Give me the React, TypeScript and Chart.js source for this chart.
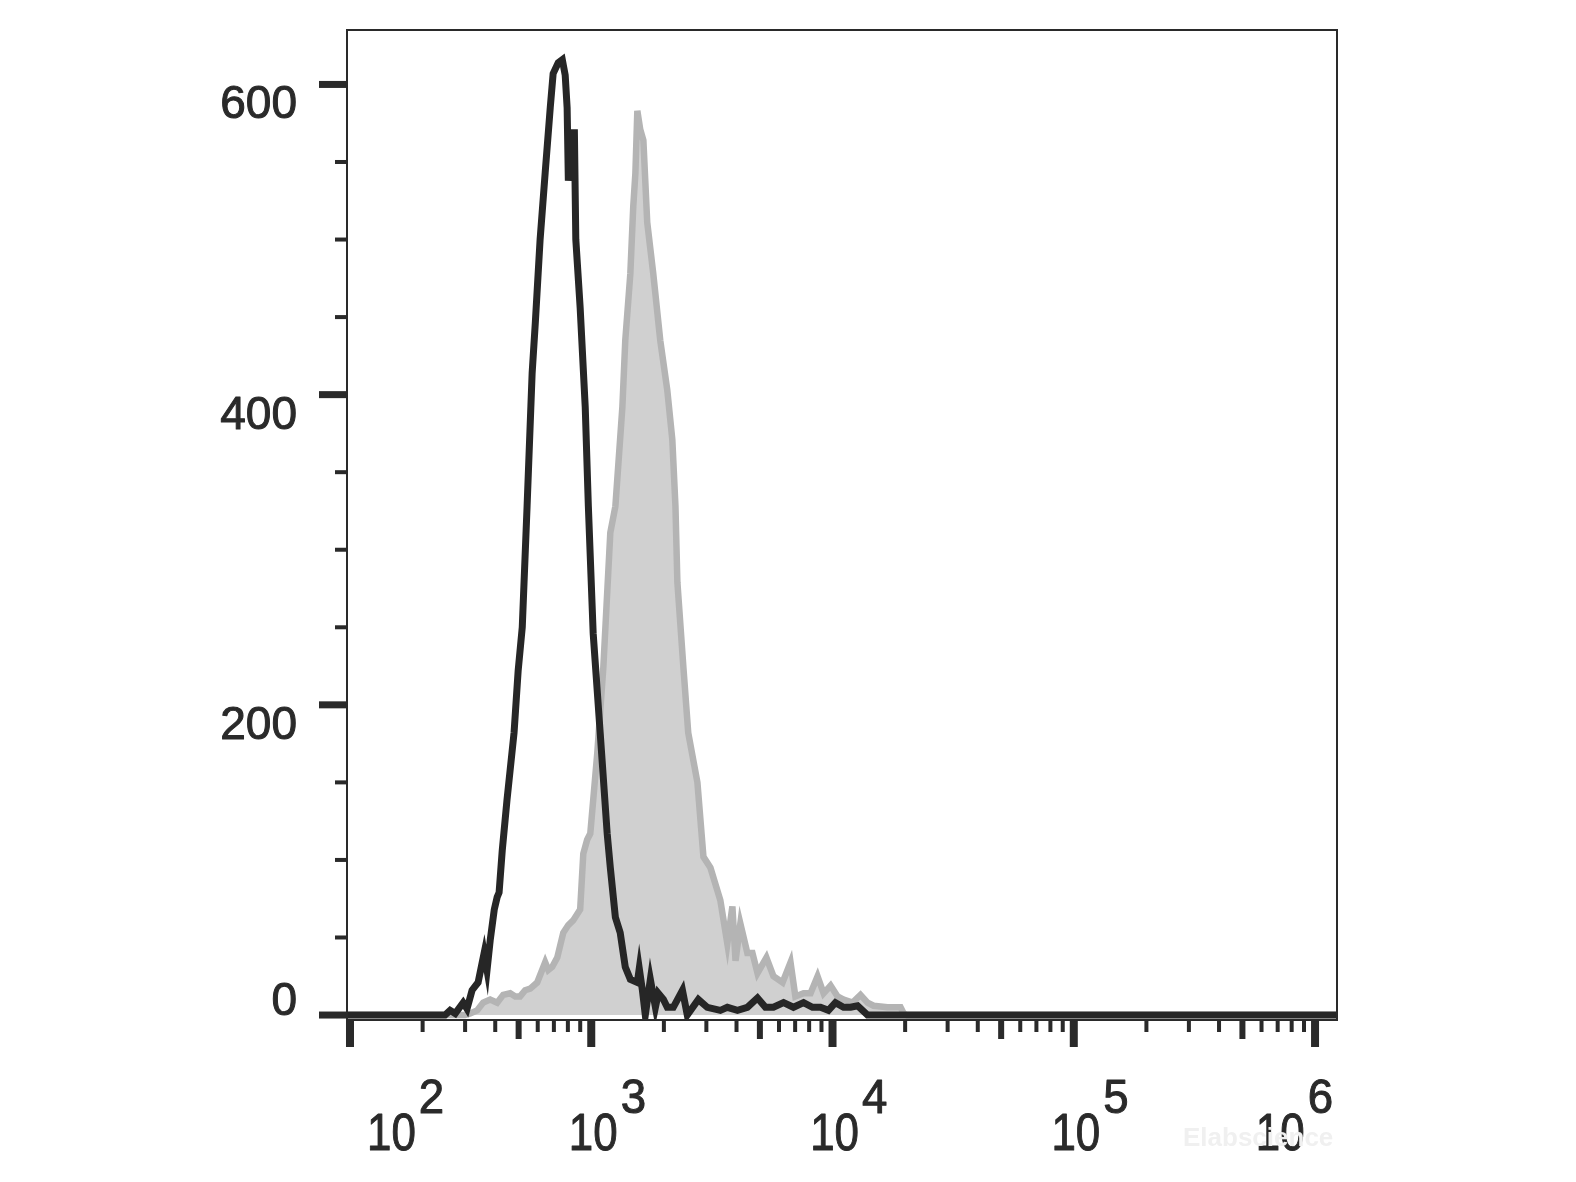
import React, { useEffect, useRef } from "react";
import { Chart, registerables } from "chart.js";

Chart.register(...registerables);

// ---- Data (x given as log10 of fluorescence intensity, y = event count) ----
const blackLogIntensity = [
  1.95, 2.394, 2.415, 2.436, 2.469, 2.485, 2.506, 2.531, 2.556, 2.568, 2.581, 2.598, 2.61, 2.618,
  2.631, 2.651, 2.68, 2.697, 2.714, 2.734, 2.755, 2.768, 2.788, 2.809, 2.83, 2.842, 2.863, 2.88,
  2.892, 2.9, 2.905, 2.93, 2.936, 2.954, 2.975, 2.988, 3.008, 3.037, 3.066, 3.079, 3.1, 3.12,
  3.141, 3.162, 3.191, 3.199, 3.212, 3.224, 3.245, 3.266, 3.278, 3.299, 3.315, 3.34, 3.378, 3.398,
  3.444, 3.481, 3.535, 3.564, 3.606, 3.647, 3.689, 3.722, 3.755, 3.797, 3.838, 3.88, 3.917, 3.95,
  3.983, 4.012, 4.046, 4.075, 4.104, 4.145, 6.15,
];
const blackCounts = [
  0, 0, 3, 1, 8, 4, 16, 21, 40, 29, 48, 68, 76, 79,
  106, 139, 182, 222, 250, 328, 414, 446, 500, 543, 585, 607, 614, 616,
  606, 585, 538, 571, 500, 456, 392, 328, 246, 182, 117, 95, 63, 53,
  31, 23, 21, 30, 16, 0, 23, 5, 14, 10, 5, 5, 16, 0,
  10, 5, 3, 5, 3, 5, 11, 5, 5, 8, 5, 8, 5, 5,
  3, 8, 5, 5, 6, 0, 0,
];

const greyLogIntensity = [
  1.95, 2.477, 2.498, 2.527, 2.552, 2.581, 2.61, 2.635, 2.664, 2.685, 2.705, 2.726, 2.747, 2.776,
  2.809, 2.822, 2.838, 2.859, 2.884, 2.905, 2.925, 2.954, 2.967, 2.983, 2.996, 3.025, 3.05, 3.079,
  3.1, 3.129, 3.141, 3.162, 3.174, 3.183, 3.191, 3.203, 3.216, 3.232, 3.257, 3.286, 3.315, 3.336,
  3.349, 3.357, 3.382, 3.402, 3.44, 3.465, 3.494, 3.535, 3.564, 3.585, 3.598, 3.618, 3.647, 3.668,
  3.689, 3.726, 3.755, 3.793, 3.826, 3.846, 3.88, 3.909, 3.938, 3.963, 3.992, 4.021, 4.046, 4.083,
  4.116, 4.145, 4.17, 4.228, 4.282, 4.295, 4.307, 6.15,
];
const greyCounts = [
  0, 0, 1, 3, 8, 10, 8, 13, 14, 12, 12, 16, 17, 21,
  34, 29, 31, 37, 53, 58, 61, 68, 104, 113, 117, 169, 224, 311,
  328, 392, 435, 478, 521, 543, 583, 571, 564, 511, 478, 435, 403, 371,
  328, 279, 224, 182, 150, 102, 95, 74, 46, 70, 35, 59, 40, 40,
  27, 37, 25, 21, 34, 12, 14, 14, 25, 14, 19, 12, 10, 8,
  13, 8, 6, 5, 5, 1, 0, 0,
];

const yMajorTicks = [0, 200, 400, 600];
const yMinorTicks = [50, 100, 150, 250, 300, 350, 450, 500, 550];
const xDecadeExponents = [2, 3, 4, 5, 6];
const xMinorMultipliers = [2, 3, 4, 5, 6, 7, 8, 9];
const watermarkText = "Elabscience";

const X_MIN_EXP = 1.9876;
const X_MAX_EXP = 6.091;
const Y_MIN = -3.2;
const Y_MAX = 635.1;

const INK = "#2a2a2a";
const FONT = '"Liberation Sans", Arial, Helvetica, sans-serif';

function heavyText(ctx: CanvasRenderingContext2D, s: string, x: number, y: number) {
  ctx.fillText(s, x, y);
  ctx.strokeText(s, x, y);
}

const flowAxesPlugin = {
  id: "flowAxes",
  afterDatasetsDraw(chart: any) {
    const { ctx, chartArea: a, scales } = chart;
    const xs = scales.x;
    const ys = scales.y;
    ctx.save();
    ctx.fillStyle = INK;
    ctx.strokeStyle = INK;

    // frame
    ctx.lineWidth = 2;
    ctx.strokeRect(a.left, a.top, a.right - a.left, a.bottom - a.top);

    // y ticks
    for (const v of yMajorTicks) {
      const p = ys.getPixelForValue(v);
      ctx.fillRect(a.left - 28, p - 3.5, 28, 7);
    }
    for (const v of yMinorTicks) {
      const p = ys.getPixelForValue(v);
      ctx.fillRect(a.left - 12, p - 2, 12, 4);
    }

    // x ticks
    xDecadeExponents.forEach((e, i) => {
      const p = xs.getPixelForValue(Math.pow(10, e));
      ctx.fillRect(p - 4, a.bottom, 8, 27);
      if (i < xDecadeExponents.length - 1) {
        for (const m of xMinorMultipliers) {
          const q = xs.getPixelForValue(m * Math.pow(10, e));
          if (m === 5) ctx.fillRect(q - 3, a.bottom, 6, 19);
          else ctx.fillRect(q - 2, a.bottom, 4, 12);
        }
      }
    });

    ctx.lineWidth = 1;
    ctx.lineJoin = "round";

    // y labels
    ctx.font = `46px ${FONT}`;
    ctx.textAlign = "right";
    ctx.textBaseline = "alphabetic";
    for (const v of yMajorTicks) {
      const p = ys.getPixelForValue(v);
      const base = Math.min(p + 34, a.bottom - 5);
      heavyText(ctx, String(v), a.left - 50, base);
    }

    // x labels 10^n
    ctx.textAlign = "left";
    const sxMain = 0.86;
    const sxSup = 0.95;
    for (const e of xDecadeExponents) {
      const p = xs.getPixelForValue(Math.pow(10, e));
      ctx.font = `51px ${FONT}`;
      const w10 = ctx.measureText("10").width * sxMain;
      ctx.font = `48px ${FONT}`;
      const ws = ctx.measureText(String(e)).width * sxSup;
      const gap = 3;
      const total = w10 + gap + ws;
      let left = p + 2 - w10 / 2;
      left = Math.max(left, a.left + 20);
      left = Math.min(left, a.right - 4 - total);

      ctx.save();
      ctx.font = `51px ${FONT}`;
      ctx.translate(left, a.bottom + 130);
      ctx.scale(sxMain, 1);
      heavyText(ctx, "10", 0, 0);
      ctx.restore();

      ctx.save();
      ctx.font = `48px ${FONT}`;
      ctx.translate(left + w10 + gap, a.bottom + 93);
      ctx.scale(sxSup, 1);
      heavyText(ctx, String(e), 0, 0);
      ctx.restore();
    }

    // faint watermark
    ctx.font = `bold 26px ${FONT}`;
    ctx.fillStyle = "#f0f0f0";
    ctx.fillText(watermarkText, a.right - 154, a.bottom + 126);

    ctx.restore();
  },
};

export default function App() {
  const ref = useRef<HTMLCanvasElement>(null);

  useEffect(() => {
    if (!ref.current) return;
    const blackData = blackLogIntensity.map((lx, i) => ({ x: Math.pow(10, lx), y: blackCounts[i] }));
    const greyData = greyLogIntensity.map((lx, i) => ({ x: Math.pow(10, lx), y: greyCounts[i] }));

    const chart = new Chart(ref.current, {
      type: "line",
      data: {
        datasets: [
          {
            label: "Isotype",
            data: blackData,
            borderColor: "#262626",
            borderWidth: 7,
            fill: false,
            pointRadius: 0,
            tension: 0,
            order: 0,
          },
          {
            label: "Stained",
            data: greyData,
            borderColor: "#b4b4b4",
            backgroundColor: "#d0d0d0",
            borderWidth: 6.5,
            fill: "origin",
            pointRadius: 0,
            tension: 0,
            order: 1,
          },
        ],
      },
      options: {
        responsive: false,
        animation: false,
        devicePixelRatio: 1,
        layout: { padding: { left: 339, top: 22, right: 231, bottom: 154 } },
        plugins: {
          legend: { display: false },
          tooltip: { enabled: false },
        },
        scales: {
          x: {
            type: "logarithmic",
            min: Math.pow(10, X_MIN_EXP),
            max: Math.pow(10, X_MAX_EXP),
            display: false,
          },
          y: {
            type: "linear",
            min: Y_MIN,
            max: Y_MAX,
            display: false,
          },
        },
      },
      plugins: [flowAxesPlugin],
    } as any);

    return () => chart.destroy();
  }, []);

  return (
    <canvas
      ref={ref}
      width={1560}
      height={1166}
      style={{ display: "block", width: "1560px", height: "1166px" }}
    />
  );
}
